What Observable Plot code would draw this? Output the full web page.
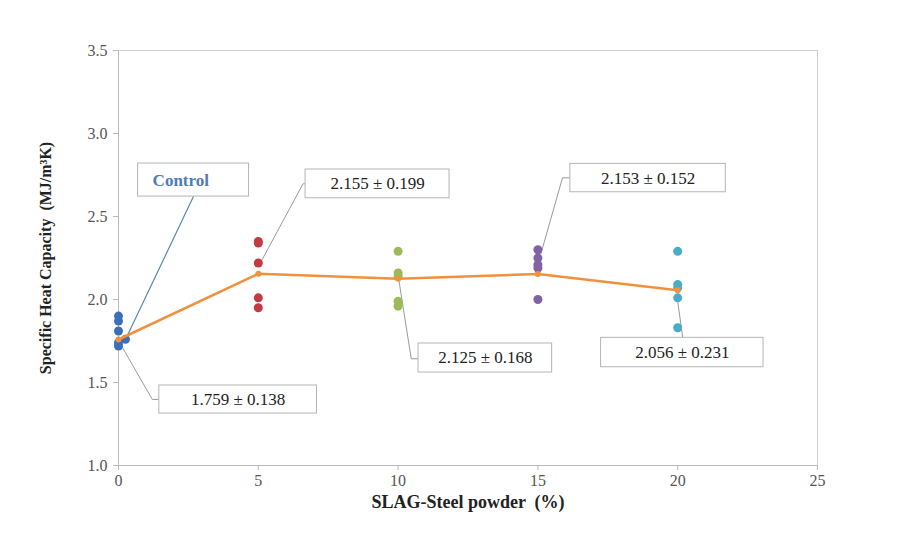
<!DOCTYPE html>
<html><head><meta charset="utf-8">
<script src="https://cdn.jsdelivr.net/npm/d3@7"></script>
<script src="https://cdn.jsdelivr.net/npm/@observablehq/plot@0.6"></script>
<style>body{margin:0;background:#fff}</style>
</head><body><div id="chart"></div>
<script>
// Raw measurements per SLAG-steel powder content
const groups = ["0", "5", "10", "15", "20"];
const groupColors = ["#3d6fb9", "#c23b40", "#9bbb59", "#8064a2", "#4bacc6"];
const sampleX = [0,0,0,0,0,0.25, 5,5,5,5,5, 10,10,10,10,10, 15,15,15,15,15, 20,20,20,20,20];
const sampleY = [1.90,1.87,1.81,1.74,1.72,1.76, 2.35,2.34,2.22,2.01,1.95, 2.29,2.16,2.14,1.99,1.96, 2.30,2.25,2.21,2.19,2.00, 2.29,2.09,2.07,2.01,1.83];
const sampleGroup = ["0","0","0","0","0","0", "5","5","5","5","5", "10","10","10","10","10", "15","15","15","15","15", "20","20","20","20","20"];
// Mean line
const meanX = [0, 5, 10, 15, 20];
const meanY = [1.759, 2.155, 2.125, 2.153, 2.056];
const meanLabels = ["1.759 ± 0.138", "2.155 ± 0.199", "2.125 ± 0.168", "2.153 ± 0.152", "2.056 ± 0.231"];
// Label boxes (data coordinates)
const boxX1 = [1.46, 6.69, 10.73, 16.16, 17.26];
const boxX2 = [7.10, 11.84, 15.51, 21.72, 23.07];
const boxY1 = [1.313, 2.610, 1.560, 2.646, 1.592];
const boxY2 = [1.482, 2.783, 1.735, 2.817, 1.769];
// leader lines (data coordinates)
const leaderId = [0,0,0, 1,1,1, 2,2,2, 3,3,3, 4,4];
const leaderX = [0.14,1.21,1.46, 5.12,6.60,6.69, 10.03,10.47,10.73, 15.11,15.88,16.16, 19.98,20.18];
const leaderY = [1.711,1.398,1.398, 2.235,2.697,2.697, 2.114,1.643,1.643, 2.277,2.733,2.733, 2.014,1.769];
// Control callout
const controlText = "Control";
const controlBox = {x1: 0.70, x2: 4.67, y1: 2.620, y2: 2.819};
const controlLeaderX = [2.68, 0.25];
const controlLeaderY = [2.620, 1.759];

const xTicks = [0, 5, 10, 15, 20, 25];
const yTicks = [1.0, 1.5, 2.0, 2.5, 3.0, 3.5];
const xLabel = "SLAG-Steel powder  (%)";
const yLabel = "Specific Heat Capacity  (MJ/m³K)";

const samples = sampleX.map((x, i) => ({x, y: sampleY[i], g: sampleGroup[i]}));
const means = meanX.map((x, i) => ({x, y: meanY[i]}));
const boxes = meanLabels.map((t, i) => ({t, x1: boxX1[i], x2: boxX2[i], y1: boxY1[i], y2: boxY2[i]}));
const leaders = leaderX.map((x, i) => ({x, y: leaderY[i], id: leaderId[i]}));
const ctrlLeader = controlLeaderX.map((x, i) => ({x, y: controlLeaderY[i]}));

const serif = "'Liberation Serif', 'DejaVu Serif', serif";

const chart = Plot.plot({
  width: 911, height: 544,
  marginLeft: 118, marginRight: 94, marginTop: 50, marginBottom: 79,
  style: {fontFamily: serif, fontSize: "15px", color: "#555", background: "#fff"},
  x: {domain: [0, 25], ticks: xTicks, label: null},
  y: {domain: [1, 3.5], ticks: yTicks, tickFormat: d3.format(".1f"), label: null},
  color: {domain: groups, range: groupColors},
  marks: [
    Plot.frame({stroke: "#cfcfcf"}),
    Plot.axisX({ticks: xTicks, tickSize: 5, tickPadding: 4, stroke: "#bbb", label: null, fontSize: 16}),
    Plot.axisY({ticks: yTicks, tickSize: 5, tickPadding: 6, tickFormat: d3.format(".1f"), stroke: "#bbb", label: null, fontSize: 16}),
    Plot.ruleY([1], {stroke: "#bbb"}),
    Plot.ruleX([0], {stroke: "#bbb"}),
    // leader lines
    Plot.line(leaders, {x: "x", y: "y", z: "id", stroke: "#9a9a9a", strokeWidth: 1, curve: "linear"}),
    Plot.line(ctrlLeader, {x: "x", y: "y", stroke: "#5a86b8", strokeWidth: 1.2}),
    // samples
    Plot.dot(samples, {x: "x", y: "y", fill: "g", r: 4.5, stroke: "none"}),
    // mean line
    Plot.line(means, {x: "x", y: "y", stroke: "#f0913e", strokeWidth: 2.5}),
    Plot.dot(means, {x: "x", y: "y", fill: "#f0913e", r: 3}),
    // label boxes
    Plot.rect(boxes, {x1: "x1", x2: "x2", y1: "y1", y2: "y2", fill: "#fff", stroke: "#b5b5b5", strokeWidth: 1}),
    Plot.text(boxes, {x: d => (d.x1 + d.x2) / 2, y: d => (d.y1 + d.y2) / 2, text: "t", fontSize: 17, fill: "#222", fontFamily: serif}),
    Plot.rect([controlBox], {x1: "x1", x2: "x2", y1: "y1", y2: "y2", fill: "#fff", stroke: "#b5b5b5"}),
    Plot.text([controlText], {x: controlBox.x1 + 0.52, y: (controlBox.y1 + controlBox.y2) / 2, text: d => d, textAnchor: "start", fontWeight: "bold", fontSize: 17, fill: "#4f7cb8", fontFamily: serif}),
    // axis titles
    Plot.text([xLabel], {frameAnchor: "bottom", dy: 42, textAnchor: "middle", text: d => d, fontWeight: "bold", fontSize: 18, fill: "#222", fontFamily: serif}),
    Plot.text([yLabel], {frameAnchor: "left", dx: -73, rotate: -90, textAnchor: "middle", text: d => d, fontWeight: "bold", fontSize: 16, fill: "#222", fontFamily: serif})
  ]
});
document.getElementById("chart").appendChild(chart);
</script>
</body></html>
